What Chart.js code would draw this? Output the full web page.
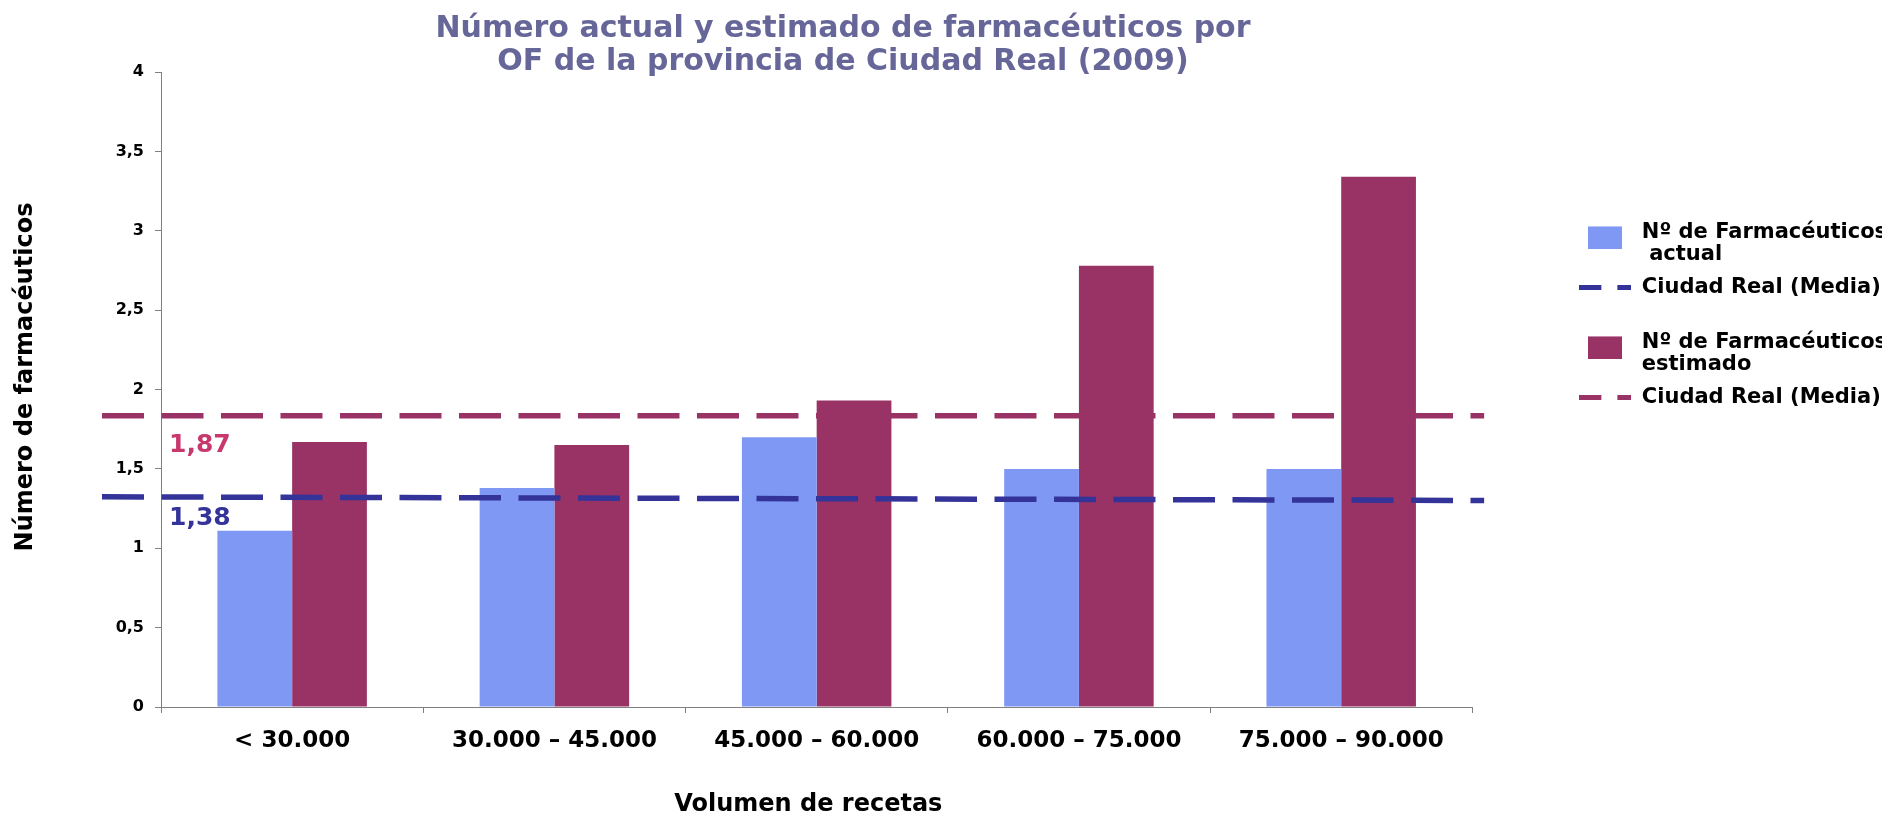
<!DOCTYPE html>
<html>
<head>
<meta charset="utf-8">
<script src="https://cdn.jsdelivr.net/npm/chart.js@4.4.1/dist/chart.umd.min.js"></script>
<style>
  html, body { margin: 0; padding: 0; background: #fff; }
  #wrap { width: 1895px; height: 817px; }
</style>
</head>
<body>
<div id="wrap"><canvas id="farmaChart"></canvas></div>
<script>
const categories = ["< 30.000", "30.000 – 45.000", "45.000 – 60.000", "60.000 – 75.000", "75.000 – 90.000"];
const actual = [1.11, 1.38, 1.70, 1.50, 1.50];
const estimated = [1.67, 1.65, 1.93, 2.78, 3.34];
const yTicks = [0, 0.5, 1, 1.5, 2, 2.5, 3, 3.5, 4];

// the two "media" lines: x extent in category units (they run past the axes),
// level at the start and at the end, and the value written under them
const meanSpan = [-0.725, 4.545];
const meanActualLine = [1.324, 1.301];
const meanEstimatedLine = [1.835, 1.835];
const meanActualLabel = "1,38";
const meanEstimatedLabel = "1,87";

const titleLines = [
  "Número actual y estimado de farmacéuticos por",
  "OF de la provincia de Ciudad Real (2009)",
];

const blueBar = "#7f98f4";
const redBar = "#993366";
const blueLine = "#333399";
const redLine = "#993366";
const FONT = "'DejaVu Sans', Verdana, sans-serif";

Chart.defaults.font.family = FONT;
Chart.defaults.color = "#000";

// legend markers (box for bars, two dashes for lines)
function boxMarker(color) {
  const c = document.createElement("canvas");
  c.width = 34;
  c.height = 33;
  const g = c.getContext("2d");
  g.fillStyle = color;
  g.fillRect(0, 10, 34, 23);
  return c;
}
function dashMarker(color) {
  const c = document.createElement("canvas");
  c.width = 52;
  c.height = 5;
  const g = c.getContext("2d");
  g.fillStyle = color;
  g.fillRect(0, 0, 22, 5);
  g.fillRect(38, 0, 14, 5);
  return c;
}
const legendMarkers = [boxMarker(blueBar), dashMarker(blueLine), boxMarker(redBar), dashMarker(redLine)];

const toLine = (levels) => meanSpan.map((x, i) => ({ x: x, y: levels[i] }));

// title + labels of the media lines
const extraText = {
  id: "extraText",
  afterDraw(chart) {
    const ctx = chart.ctx;
    const y = chart.scales.y;
    ctx.save();
    ctx.textBaseline = "middle";
    ctx.textAlign = "center";
    ctx.fillStyle = "#666699";
    ctx.font = "bold 30px " + FONT;
    titleLines.forEach((t, i) => ctx.fillText(t, 843, 29 + i * 33.5));

    ctx.textAlign = "left";
    ctx.font = "bold 25px " + FONT;
    ctx.fillStyle = "#c8386c";
    ctx.fillText(meanEstimatedLabel, chart.chartArea.left + 8, y.getPixelForValue(meanEstimatedLine[0]) + 30);
    ctx.fillStyle = blueLine;
    ctx.fillText(meanActualLabel, chart.chartArea.left + 8, y.getPixelForValue(meanActualLine[0]) + 22);
    ctx.restore();
  },
};

// line settings shared by both dashed "media" lines
const meanLineStyle = {
  type: "line",
  label: "Ciudad Real (Media)",
  parsing: false,
  borderWidth: 5.5,
  borderDash: [42, 17.5],
  pointRadius: 0,
  clip: false,
  order: 0,
};

new Chart(document.getElementById("farmaChart"), {
  type: "bar",
  data: {
    labels: categories,
    datasets: [
      {
        label: ["Nº de Farmacéuticos", " actual"],
        data: actual,
        backgroundColor: blueBar,
        categoryPercentage: 0.57,
        barPercentage: 1,
        order: 1,
      },
      { ...meanLineStyle, data: toLine(meanActualLine), borderColor: blueLine },
      {
        label: ["Nº de Farmacéuticos", "estimado"],
        data: estimated,
        backgroundColor: redBar,
        categoryPercentage: 0.57,
        barPercentage: 1,
        order: 1,
      },
      { ...meanLineStyle, data: toLine(meanEstimatedLine), borderColor: redLine },
    ],
  },
  options: {
    responsive: true,
    maintainAspectRatio: false,
    animation: false,
    layout: { padding: { top: 72, left: 0, right: 13, bottom: 0 } },
    plugins: {
      tooltip: { enabled: false },
      title: { display: false },
      legend: {
        position: "right",
        align: "start",
        title: { display: true, text: "", padding: { top: 125, bottom: 0 } },
        labels: {
          usePointStyle: true,
          pointStyleWidth: 52,
          padding: 11,
          color: "#000",
          font: { size: 21, weight: "bold", lineHeight: 22 / 21 },
          sort: (a, b) => a.datasetIndex - b.datasetIndex,
          generateLabels(chart) {
            const items = Chart.defaults.plugins.legend.labels.generateLabels(chart);
            items.forEach((item) => {
              item.pointStyle = legendMarkers[item.datasetIndex];
              if (!Array.isArray(item.text)) item.text = [item.text, ""];
            });
            return items;
          },
        },
      },
    },
    scales: {
      x: {
        min: 0,
        max: categories.length - 1,
        grid: { display: true, drawOnChartArea: false, tickLength: 6, color: "#808080" },
        border: { color: "#808080" },
        ticks: { font: { size: 23, weight: "bold" }, padding: 14 },
        title: {
          display: true,
          text: "Volumen de recetas  ",
          font: { size: 24, weight: "bold", lineHeight: 1 },
          padding: { top: 0, bottom: 0 },
        },
        afterFit(s) {
          s.height = 110;
        },
      },
      y: {
        min: 0,
        max: 4,
        afterBuildTicks(s) {
          s.ticks = yTicks.map((v) => ({ value: v }));
        },
        grid: { display: true, drawOnChartArea: false, tickLength: 6, color: "#808080" },
        border: { color: "#808080" },
        ticks: {
          font: { size: 16, weight: "bold" },
          padding: 11,
          callback: (v) => String(v).replace(".", ","),
        },
        title: {
          display: true,
          text: "   Número de farmacéuticos",
          font: { size: 24, weight: "bold" },
          padding: { top: 11, bottom: 0 },
        },
        afterFit(s) {
          s.width = 161;
        },
      },
      gap: {
        position: "right",
        display: true,
        grid: { display: false },
        border: { display: false },
        ticks: { display: false },
        afterFit(s) {
          s.width = 96;
        },
      },
    },
  },
  plugins: [extraText],
});
</script>
</body>
</html>
